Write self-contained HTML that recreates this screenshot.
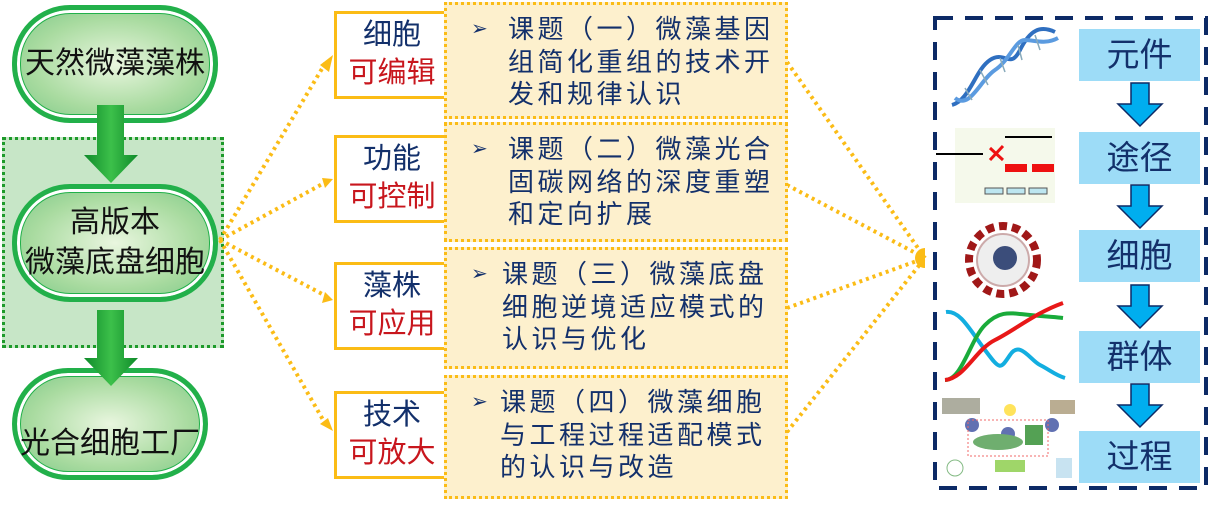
<!DOCTYPE html>
<html><head><meta charset="utf-8"><style>
body{margin:0;width:1211px;height:506px;background:#fff;position:relative;overflow:hidden;font-family:"Liberation Sans","Noto Sans CJK SC",sans-serif}
.a{position:absolute}
.pill{position:absolute;left:12px;width:196px;border:5px solid #22b04a;border-radius:58px;background:radial-gradient(ellipse at 50% 50%,#e9f6df 0%,#a9dba0 60%,#7cc887 100%);box-shadow:inset 0 0 0 3px #fff,inset 0 0 0 4px #22b04a;display:flex;align-items:center;justify-content:center;text-align:center;font-size:30px;color:#111;line-height:40px;white-space:nowrap}
.lab{position:absolute;left:334px;width:110px;height:80px;border:3px solid #fbbc16;background:#fff;text-align:center;font-size:29px;line-height:38px;padding-top:2px;box-sizing:content-box}
.lab b{font-weight:normal;color:#13306b;display:block}
.lab i{font-style:normal;color:#c8161d;display:block}
.tb{position:absolute;left:444px;width:338px;border:3px dotted #fbbc16;background:#fdf0cd;color:#13306b;font-size:26px;line-height:32.5px;letter-spacing:3.5px}
.tb span{position:absolute;left:24px;top:8px;font-size:20px}
.tb div{position:absolute;left:61px;top:8px;width:282px}
.rb{position:absolute;left:1079px;width:121px;height:52px;background:#9ddcf7;color:#13306b;font-size:33px;text-align:center;line-height:52px}
</style></head><body>
<div class="a" style="left:2px;top:137px;width:216px;height:205px;background:#c7e6c7;border:3px dotted #1d9a2a"></div>
<div class="pill" style="top:5px;height:108px">天然微藻藻株</div>
<div class="pill" style="top:184px;height:108px">高版本<br>微藻底盘细胞</div>
<div class="pill" style="top:368px;height:112px;padding-top:40px;box-sizing:border-box">光合细胞工厂</div>
<svg class="a" style="left:0;top:0" width="1211" height="506">
<defs><linearGradient id="g" x1="0" x2="1"><stop offset="0" stop-color="#0f8a2a"/><stop offset=".5" stop-color="#3cc04a"/><stop offset="1" stop-color="#0f8a2a"/></linearGradient></defs>
<polygon points="97,105 124,105 124,155 138,155 111,183 84,155 97,155" fill="url(#g)"/>
<polygon points="97,310 124,310 124,358 138,358 111,386 84,358 97,358" fill="url(#g)"/>
<g stroke="#fbbc16" stroke-width="4" stroke-dasharray="3,4" fill="none">
<line x1="220" y1="240" x2="326" y2="62"/><line x1="220" y1="240" x2="326" y2="182"/>
<line x1="220" y1="240" x2="326" y2="296"/><line x1="220" y1="240" x2="326" y2="425"/>
<line x1="787" y1="62" x2="925" y2="258"/><line x1="787" y1="185" x2="925" y2="258"/>
<line x1="787" y1="308" x2="925" y2="258"/><line x1="787" y1="432" x2="925" y2="258"/>
</g>
<g fill="#fbbc16"><polygon points="333,55 329,72 320,65"/><polygon points="333,179 325,188 322,178"/><polygon points="333,300 322,303 325,292"/><polygon points="333,431 320,424 328,418"/>
<path d="M925,248 A10,10 0 0,0 925,268 Z"/></g>
<rect x="935" y="18" width="271" height="470" fill="none" stroke="#0d2a66" stroke-width="4" stroke-dasharray="18,12"/>
<g fill="#00aeef" stroke="#0d2a66" stroke-width="1.5">
<polygon points="1131,83 1149,83 1149,104 1162,104 1140,126 1118,104 1131,104"/>
<polygon points="1131,185 1149,185 1149,206 1162,206 1140,228 1118,206 1131,206"/>
<polygon points="1131,285 1149,285 1149,306 1162,306 1140,328 1118,306 1131,306"/>
<polygon points="1131,384 1149,384 1149,405 1162,405 1140,427 1118,405 1131,405"/>
</g>
<g fill="none" stroke-width="4">
<path d="M952,105 C970,100 975,70 990,60 S1010,70 1020,50 S1040,25 1055,32" stroke="#2f6fc0"/>
<path d="M955,98 C970,110 980,80 995,70 S1015,40 1025,40 S1045,45 1058,38" stroke="#5b9be0"/>
</g>
<g stroke="#8ab" stroke-width="1.5"><line x1="965" y1="88" x2="972" y2="100"/><line x1="980" y1="70" x2="988" y2="85"/><line x1="1000" y1="58" x2="1005" y2="72"/><line x1="1018" y1="45" x2="1022" y2="60"/><line x1="1035" y1="35" x2="1040" y2="50"/></g>
<rect x="955" y="128" width="100" height="75" fill="#f3f7e6" opacity=".8"/>
<g stroke="#000" stroke-width="2"><line x1="936" y1="154" x2="983" y2="154"/><line x1="1005" y1="137" x2="1052" y2="137"/></g>
<g fill="#e11"><rect x="1005" y="164" width="22" height="8"/><rect x="1032" y="164" width="22" height="8"/></g>
<path d="M990,148 L1003,160 M1003,146 L990,160" stroke="#e11" stroke-width="3"/>
<g fill="#bde6f0" stroke="#555"><rect x="985" y="188" width="18" height="6"/><rect x="1007" y="188" width="18" height="6"/><rect x="1029" y="188" width="18" height="6"/></g>
<circle cx="1003" cy="260" r="34" fill="#fff" stroke="#a01818" stroke-width="8" stroke-dasharray="8,5"/>
<circle cx="1003" cy="260" r="26" fill="#eee" stroke="#caa" stroke-width="2"/>
<circle cx="1005" cy="258" r="12" fill="#3b4d7a"/>
<path d="M946,312 C960,310 970,330 985,350 S1000,370 1010,355 S1030,360 1040,365 S1055,375 1065,378" stroke="#13aee0" stroke-width="4" fill="none"/>
<path d="M945,380 C962,380 970,340 985,325 S1010,313 1030,315 S1055,317 1063,318" stroke="#1aab3a" stroke-width="4" fill="none"/>
<path d="M945,380 C965,378 975,350 995,340 S1035,313 1063,303" stroke="#e81818" stroke-width="4" fill="none"/>
<g opacity=".8"><rect x="942" y="398" width="38" height="16" fill="#998"/><rect x="1050" y="400" width="25" height="14" fill="#a97"/>
<circle cx="1010" cy="410" r="6" fill="#fd3"/>
<circle cx="972" cy="425" r="7" fill="#3a4ea0"/><circle cx="1008" cy="434" r="7" fill="#3a4ea0"/><circle cx="1052" cy="425" r="7" fill="#3a4ea0"/>
<rect x="968" y="420" width="80" height="36" fill="none" stroke="#e44" stroke-dasharray="2,2"/>
<ellipse cx="998" cy="442" rx="25" ry="8" fill="#4c9a4c"/><rect x="1025" y="425" width="18" height="20" fill="#2a8a2a"/>
<rect x="995" y="460" width="30" height="12" fill="#8c4"/><rect x="1056" y="458" width="16" height="20" fill="#bde"/>
<circle cx="955" cy="468" r="8" fill="none" stroke="#6a6"/></g>
</svg>
<div class="lab" style="top:11px"><b>细胞</b><i>可编辑</i></div>
<div class="lab" style="top:135px"><b>功能</b><i>可控制</i></div>
<div class="lab" style="top:262px"><b>藻株</b><i>可应用</i></div>
<div class="lab" style="top:391px"><b>技术</b><i>可放大</i></div>
<div class="tb" style="top:2px;height:111px"><span>➢</span><div>课题（一）微藻基因组简化重组的技术开发和规律认识</div></div>
<div class="tb" style="top:122px;height:114px"><span>➢</span><div>课题（二）微藻光合固碳网络的深度重塑和定向扩展</div></div>
<div class="tb" style="top:247px;height:116px"><span>➢</span><div style="left:55px">课题（三）微藻底盘细胞逆境适应模式的认识与优化</div></div>
<div class="tb" style="top:375px;height:118px"><span>➢</span><div style="left:53px">课题（四）微藻细胞与工程过程适配模式的认识与改造</div></div>
<div class="rb" style="top:29px">元件</div>
<div class="rb" style="top:132px">途径</div>
<div class="rb" style="top:230px">细胞</div>
<div class="rb" style="top:331px">群体</div>
<div class="rb" style="top:431px">过程</div>
</body></html>
